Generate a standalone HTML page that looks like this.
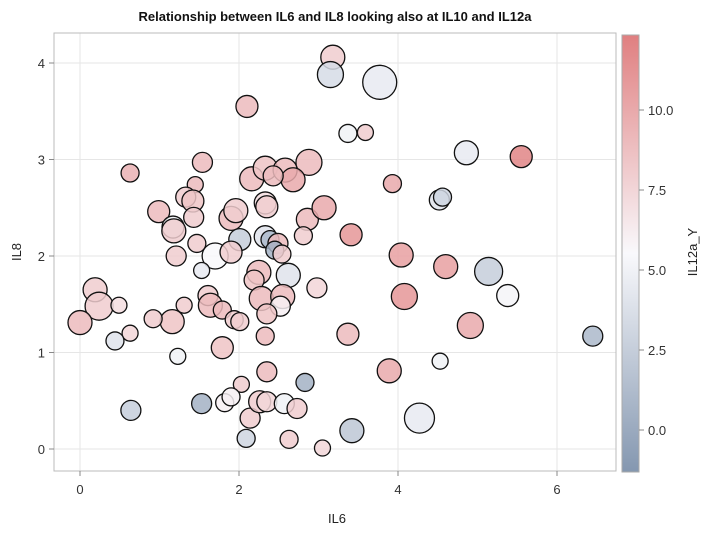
<!DOCTYPE html>
<html><head><meta charset="utf-8"><style>
body{margin:0;background:#fff;}
svg text{font-family:"Liberation Sans",Arial,sans-serif;}
</style></head><body>
<svg id="chart" width="712" height="536" xmlns="http://www.w3.org/2000/svg">
<defs>
<linearGradient id="cbar" x1="0" y1="1" x2="0" y2="0">
<stop offset="0" stop-color="#8497b0"/>
<stop offset="0.5" stop-color="#f9f9fc"/>
<stop offset="1" stop-color="#e07f80"/>
</linearGradient>
</defs>
<text x="335" y="21" text-anchor="middle" font-size="13" font-weight="bold" fill="#111">Relationship between IL6 and IL8 looking also at IL10 and IL12a</text>
<g id="grid"></g>
<rect x="54" y="33" width="562" height="438" fill="none" stroke="#bbb"/>
<g id="points"></g>
<g id="axes"></g>
<text x="337" y="523" text-anchor="middle" font-size="13" fill="#222">IL6</text>
<text transform="translate(21,252) rotate(-90)" text-anchor="middle" font-size="13" fill="#222">IL8</text>
<rect x="622" y="35" width="17" height="437" fill="url(#cbar)" stroke="#aaa"/>
<g id="cbticks"></g>
<text transform="translate(697,252) rotate(-90)" text-anchor="middle" font-size="13" fill="#222">IL12a_Y</text>
</svg>
<script>
const il6 = [3.18,3.15,3.77,2.1,3.37,3.59,4.86,5.55,0.63,1.54,3.93,2.16,2.33,2.58,2.88,2.68,2.43,1.45,1.33,1.42,0.99,1.17,1.18,1.43,1.9,1.96,2.33,2.35,2.01,2.33,2.39,2.49,2.45,2.86,3.07,2.81,3.41,1.70,1.9,1.53,1.21,1.47,2.25,2.19,2.28,2.54,2.62,2.55,2.52,1.61,1.64,1.79,2.35,2.33,1.94,2.01,1.79,1.31,1.16,0.92,0.63,0.44,0.19,0.24,0.49,0,1.23,2.98,3.37,4.04,4.08,4.6,4.52,4.56,5.14,5.38,4.91,4.53,3.89,6.45,4.27,3.42,2.83,2.35,2.03,1.82,1.53,0.64,1.9,2.14,2.09,2.26,2.35,2.57,2.73,2.63,3.05];
const il8 = [4.06,3.88,3.80,3.55,3.27,3.28,3.07,3.03,2.86,2.97,2.75,2.8,2.91,2.89,2.97,2.79,2.83,2.74,2.61,2.57,2.46,2.3,2.26,2.4,2.39,2.47,2.55,2.51,2.17,2.2,2.17,2.13,2.06,2.38,2.5,2.21,2.22,2.0,2.04,1.85,2.0,2.13,1.83,1.75,1.56,2.02,1.80,1.58,1.48,1.59,1.49,1.44,1.4,1.17,1.34,1.32,1.05,1.49,1.32,1.35,1.2,1.12,1.65,1.48,1.49,1.31,0.96,1.67,1.19,2.01,1.58,1.89,2.58,2.61,1.84,1.59,1.28,0.91,0.81,1.17,0.32,0.19,0.69,0.8,0.67,0.48,0.47,0.40,0.54,0.32,0.11,0.49,0.49,0.47,0.42,0.1,0.01];
const il10 = [12,13,17,11,9,8,12,11,9,10,9,12,12,12,13,12,10,8,10,11,11,11,12,10,12,12,11,11,11,11,9,10,9,11,12,9,11,13,11,8,10,9,12,10,12,9,12,12,10,10,12,9,10,9,9,9,11,8,12,9,8,9,12,14,8,12,8,10,11,12,13,12,10,9,14,11,13,8,12,10,15,12,9,10,8,9,10,10,9,10,9,11,10,10,10,9,8];
const il12a = [8,3.5,4.5,9,5,8,4.5,12,9.5,9,10,9,8.5,9,9,10,9,9,8,8.5,9,5,8,8,9,8,7,8,2.5,4,1,9,0.5,9,10,8,11,5.5,8,4.5,8,8,9,8.5,9,8,4,9,6,8,9,9,8.5,9,8,8,8.5,8,8.5,8,7.5,4,8,8,7,9,5,7.5,9,10.5,11,10.5,4,3,2.5,5.2,10,5,10,1,4.5,2,0.5,9,8,6,0.5,2.5,6,8,3,8,7.5,5,8,8,7.5];
const xTicks = [0,2,4,6];
const yTicks = [0,1,2,3,4];
const cTicks = [0,2.5,5,7.5,10];
const cTickLabels = ["0.0","2.5","5.0","7.5","10.0"];

const NS="http://www.w3.org/2000/svg";
const xs=v=>80+v*79.5;
const ys=v=>449-v*96.5;
const cs=v=>430-v*32;
const rs=v=>v;
function lerp(a,b,t){return a.map((x,i)=>Math.round(x+(b[i]-x)*t));}
function color(v){const lo=[132,151,176],mid=[249,249,252],hi=[224,127,128];
 const vmin=-1.31,vmax=12.34,vmid=(vmin+vmax)/2;
 const c=v<vmid?lerp(lo,mid,Math.max(0,(v-vmin)/(vmid-vmin))):lerp(mid,hi,Math.min(1,(v-vmid)/(vmax-vmid)));
 return `rgb(${c[0]},${c[1]},${c[2]})`;}
function mk(tag,attrs,parent,text){const e=document.createElementNS(NS,tag);for(const k in attrs)e.setAttribute(k,attrs[k]);if(text!==undefined)e.textContent=text;parent.appendChild(e);return e;}
const grid=document.getElementById('grid'),axes=document.getElementById('axes'),pts=document.getElementById('points'),cb=document.getElementById('cbticks');
xTicks.forEach(t=>{
 const g=mk('line',{x1:xs(t),x2:xs(t),y1:33,y2:471,stroke:'#e6e6e6'},grid);
 
 
 mk('line',{x1:xs(t),x2:xs(t),y1:471,y2:476,stroke:'#888'},axes);
 const l=mk('text',{x:xs(t),y:494,'text-anchor':'middle','font-size':13,fill:'#333'},axes,String(t));
 
 
});
yTicks.forEach(t=>{
 const g=mk('line',{x1:54,x2:616,y1:ys(t),y2:ys(t),stroke:'#e6e6e6'},grid);
 
 
 mk('line',{x1:49,x2:54,y1:ys(t),y2:ys(t),stroke:'#888'},axes);
 const l=mk('text',{x:45,y:ys(t)+5,'text-anchor':'end','font-size':13,fill:'#333'},axes,String(t));
 
 
});
il6.forEach((x,i)=>{
 const c=mk('circle',{cx:xs(x),cy:ys(il8[i]),r:rs(il10[i]),fill:color(il12a[i]),'fill-opacity':0.85,stroke:'#111','stroke-width':1.3},pts);
 
 
});
cTicks.forEach((t,i)=>{
 mk('line',{x1:639,x2:644,y1:cs(t),y2:cs(t),stroke:'#888'},cb);
 const l=mk('text',{x:648,y:cs(t)+5,'font-size':13,fill:'#333'},cb,cTickLabels[i]);
 
 
});
</script>
</body></html>
